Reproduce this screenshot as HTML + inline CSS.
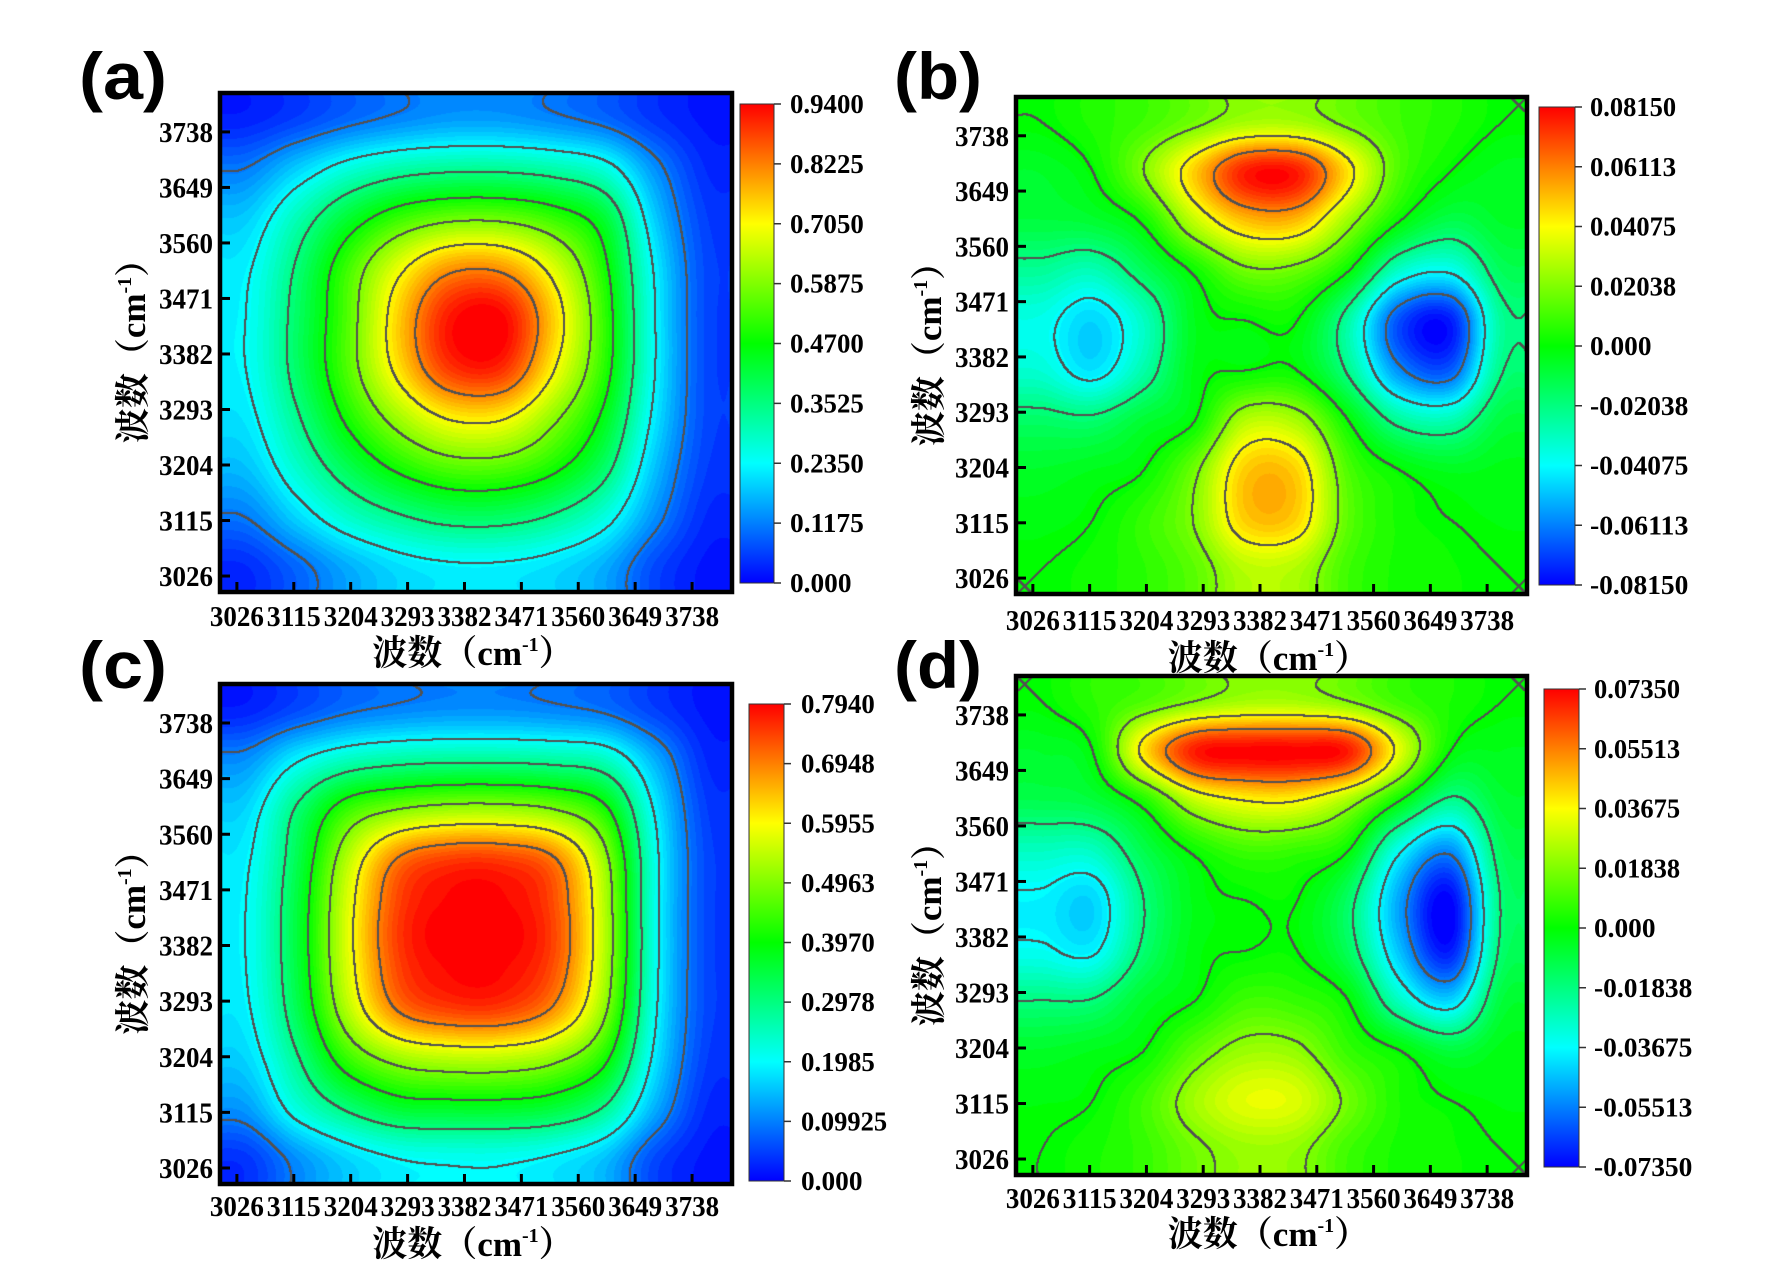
<!DOCTYPE html>
<html><head><meta charset="utf-8">
<style>
html,body{margin:0;padding:0;background:#fff;}
#wrap{position:relative;width:1776px;height:1263px;}
#cv{position:absolute;left:0;top:0;}
#fig{position:absolute;left:0;top:0;display:block;}
.tk{font-family:"Liberation Serif","Noto Serif CJK SC",serif;font-weight:bold;font-size:28px;fill:#000;}
.ck{font-family:"Liberation Serif","Noto Serif CJK SC",serif;font-weight:bold;font-size:27px;fill:#000;}
.tt{font-family:"Liberation Serif","Noto Serif CJK SC",serif;font-weight:bold;font-size:35px;fill:#000;}
.pl{font-family:"Liberation Sans",sans-serif;font-weight:bold;font-size:66px;fill:#000;}
</style></head>
<body>
<div id="wrap">
<canvas id="cv" width="1776" height="1263"></canvas>
<svg id="fig" width="1776" height="1263" viewBox="0 0 1776 1263" xmlns="http://www.w3.org/2000/svg">
<defs id="defs"></defs>
</svg>
</div>
<script>
// ---- data ----
const xTicks = [3026,3115,3204,3293,3382,3471,3560,3649,3738];
const yTicks = [3026,3115,3204,3293,3382,3471,3560,3649,3738];
const cbLabelsA = ["0.9400","0.8225","0.7050","0.5875","0.4700","0.3525","0.2350","0.1175","0.000"];
const cbLabelsB = ["0.08150","0.06113","0.04075","0.02038","0.000","-0.02038","-0.04075","-0.06113","-0.08150"];
const cbLabelsC = ["0.7940","0.6948","0.5955","0.4963","0.3970","0.2978","0.1985","0.09925","0.000"];
const cbLabelsD = ["0.07350","0.05513","0.03675","0.01838","0.000","-0.01838","-0.03675","-0.05513","-0.07350"];
const levelsUnsigned = [0.12,0.25,0.37,0.5,0.62,0.75,0.87];
const levelsSigned = [-0.75,-0.5,-0.25,0,0.25,0.5,0.75];
// grid values, rows top->bottom, normalized to colorbar range
const gridA = [
[0.03,0.06,0.10,0.13,0.15,0.15,0.13,0.10,0.05,0.02],
[0.12,0.20,0.28,0.33,0.35,0.35,0.33,0.28,0.14,0.04],
[0.20,0.32,0.45,0.55,0.60,0.60,0.55,0.45,0.20,0.06],
[0.24,0.38,0.56,0.73,0.85,0.85,0.72,0.52,0.24,0.07],
[0.25,0.40,0.58,0.80,0.98,1.00,0.80,0.55,0.25,0.07],
[0.25,0.40,0.58,0.78,0.95,0.96,0.76,0.54,0.25,0.07],
[0.23,0.36,0.52,0.66,0.76,0.76,0.64,0.48,0.23,0.07],
[0.19,0.30,0.42,0.52,0.58,0.58,0.52,0.40,0.19,0.06],
[0.12,0.21,0.30,0.36,0.40,0.40,0.36,0.28,0.14,0.04],
[0.04,0.10,0.17,0.22,0.24,0.24,0.22,0.17,0.07,0.02]];
const gridC = [
[0.03,0.07,0.11,0.13,0.14,0.14,0.13,0.11,0.06,0.02],
[0.14,0.24,0.31,0.34,0.35,0.35,0.34,0.31,0.17,0.04],
[0.21,0.38,0.55,0.62,0.65,0.65,0.62,0.52,0.24,0.06],
[0.24,0.42,0.68,0.88,0.94,0.94,0.88,0.65,0.27,0.07],
[0.25,0.44,0.72,0.94,1.00,1.00,0.93,0.68,0.27,0.07],
[0.25,0.44,0.72,0.94,1.00,1.00,0.93,0.68,0.27,0.07],
[0.24,0.42,0.68,0.88,0.94,0.94,0.86,0.64,0.26,0.07],
[0.21,0.36,0.55,0.65,0.68,0.68,0.64,0.52,0.23,0.06],
[0.15,0.28,0.38,0.45,0.46,0.46,0.44,0.36,0.17,0.04],
[0.05,0.14,0.21,0.25,0.26,0.26,0.24,0.19,0.07,0.02]];
const gridB = [
[0.00,0.06,0.12,0.22,0.32,0.32,0.22,0.12,0.06,0.00],
[-0.08,0.00,0.25,0.60,0.95,0.95,0.55,0.15,0.00,-0.06],
[-0.12,-0.10,0.02,0.38,0.62,0.62,0.30,0.00,-0.15,-0.08],
[-0.30,-0.36,-0.18,0.02,0.22,0.20,0.00,-0.40,-0.48,-0.18],
[-0.46,-0.58,-0.38,-0.05,0.00,0.00,-0.32,-0.85,-0.95,-0.30],
[-0.42,-0.55,-0.33,-0.04,0.00,0.00,-0.27,-0.72,-0.82,-0.26],
[-0.20,-0.22,-0.10,0.00,0.35,0.32,0.00,-0.30,-0.35,-0.12],
[-0.08,-0.05,0.00,0.22,0.60,0.58,0.15,0.00,-0.06,-0.04],
[-0.03,0.00,0.10,0.26,0.60,0.58,0.18,0.04,0.00,-0.02],
[0.00,0.03,0.08,0.18,0.36,0.34,0.12,0.04,0.02,0.00]];
const gridD = [
[0.00,0.08,0.15,0.25,0.32,0.32,0.25,0.12,0.05,0.00],
[-0.08,0.00,0.55,0.95,1.00,1.00,0.95,0.45,0.00,-0.05],
[-0.15,-0.12,0.05,0.38,0.50,0.50,0.32,0.00,-0.28,-0.10],
[-0.38,-0.38,-0.15,0.02,0.12,0.10,0.00,-0.48,-0.72,-0.18],
[-0.52,-0.58,-0.25,-0.04,0.00,0.00,-0.20,-0.68,-1.00,-0.24],
[-0.48,-0.52,-0.22,-0.03,0.00,0.00,-0.18,-0.62,-0.95,-0.22],
[-0.25,-0.24,-0.08,0.00,0.12,0.10,0.00,-0.38,-0.58,-0.12],
[-0.08,-0.05,0.00,0.18,0.30,0.28,0.10,0.00,-0.12,-0.04],
[-0.02,0.00,0.12,0.32,0.45,0.43,0.22,0.05,0.00,-0.02],
[0.00,0.04,0.10,0.22,0.30,0.28,0.12,0.04,0.02,0.00]];

const NS="http://www.w3.org/2000/svg";
const svg=document.getElementById('fig');
const defs=document.getElementById('defs');
const ctx=document.getElementById('cv').getContext('2d');
function mk(tag,attrs,parent){const e=document.createElementNS(NS,tag);for(const k in attrs)e.setAttribute(k,attrs[k]);(parent||svg).appendChild(e);return e;}
function jetArr(t){t=Math.max(0,Math.min(1,t));const st=[[0,0,0,255],[0.25,0,255,255],[0.5,0,255,0],[0.75,255,255,0],[1,255,0,0]];
 for(let i=0;i<4;i++){if(t<=st[i+1][0]){const f=(t-st[i][0])/(st[i+1][0]-st[i][0]);
 return [1,2,3].map(j=>Math.round(st[i][j]+f*(st[i+1][j]-st[i][j])));}}return [255,0,0];}
function jet(t){const c=jetArr(t);return `rgb(${c[0]},${c[1]},${c[2]})`;}
const lg=mk('linearGradient',{id:'jetg',x1:0,y1:1,x2:0,y2:0},defs);
for(let i=0;i<=20;i++){mk('stop',{offset:i/20,'stop-color':jet(i/20)},lg);}

// Catmull-Rom sampling of the grid (rendering only)
function cr(p0,p1,p2,p3,t){return 0.5*((2*p1)+(-p0+p2)*t+(2*p0-5*p1+4*p2-p3)*t*t+(-p0+3*p1-3*p2+p3)*t*t*t);}
function sample(grid,fx,fy){
 const n=grid.length,m=grid[0].length;
 const gx=fx*m-0.5,gy=fy*n-0.5;
 const ix=Math.floor(gx),iy=Math.floor(gy),tx=gx-ix,ty=gy-iy;
 const g=(r,c)=>grid[Math.max(0,Math.min(n-1,r))][Math.max(0,Math.min(m-1,c))];
 const rows=[];
 for(let k=-1;k<=2;k++){rows.push(cr(g(iy+k,ix-1),g(iy+k,ix),g(iy+k,ix+1),g(iy+k,ix+2),tx));}
 return cr(rows[0],rows[1],rows[2],rows[3],ty);
}
function drawField(P,grid,signed,levels){
 const W=P.x1-P.x0,H=P.y1-P.y0;
 const img=ctx.createImageData(W,H);
 const T=new Float32Array(W*H);
 const M=new Uint8Array(W*H);
 for(let y=0;y<H;y++)for(let x=0;x<W;x++){
  T[y*W+x]=sample(grid,(x+0.5)/W,(y+0.5)/H);
 }
 for(let y=0;y<H;y++)for(let x=0;x<W;x++){
  const v=T[y*W+x];
  const v2=x<W-1?T[y*W+x+1]:v,v3=y<H-1?T[(y+1)*W+x]:v;
  for(const L of levels){ if((v-L)*(v2-L)<0||(v-L)*(v3-L)<0){M[y*W+x]=1;break;} }
 }
 for(let y=0;y<H;y++)for(let x=0;x<W;x++){
  const v=T[y*W+x];const t=signed?(v+1)/2:v;
  let c=jetArr(Math.round(t*60)/60);
  const k=y*W+x;
  const line=M[k]||(x>0&&M[k-1])||(y>0&&M[k-W])||(x>0&&y>0&&M[k-W-1]);
  if(line){c=[82,82,82];}
  const i=k*4;
  img.data[i]=c[0];img.data[i+1]=c[1];img.data[i+2]=c[2];img.data[i+3]=255;
 }
 ctx.putImageData(img,P.x0,P.y0);
}

function panel(id,P,grid,signed,cb,cbLabels,lab,labX,labY,tickY,titleY){
 const g=mk('g',{});
 
 
 const W=P.x1-P.x0,H=P.y1-P.y0;
 const xS=v=>P.x0+W*(0.033+(v-3026)/(3738-3026)*(0.922-0.033));
 const yS=v=>P.y1-H*(0.032+(v-3026)/(3738-3026)*(0.922-0.032));
 drawField(P,grid,signed,signed?levelsSigned:levelsUnsigned);
 const hm=mk('rect',{x:P.x0,y:P.y0,width:W,height:H,fill:'none'},g);
 
 
 const fr=mk('rect',{x:P.x0,y:P.y0,width:W,height:H,fill:'none',stroke:'#000','stroke-width':4.5},g);
 
 
 xTicks.forEach(v=>{const x=xS(v);mk('line',{x1:x,x2:x,y1:P.y1,y2:P.y1-10,stroke:'#000','stroke-width':3},g);
  const t=mk('text',{x:x-27,y:tickY,class:'tk',textLength:54,lengthAdjust:'spacingAndGlyphs'},g);t.textContent=v;
  
  });
 yTicks.forEach(v=>{const y=yS(v);mk('line',{x1:P.x0,x2:P.x0+10,y1:y,y2:y,stroke:'#000','stroke-width':3},g);
  const t=mk('text',{x:P.x0-61,y:y+10,class:'tk',textLength:54,lengthAdjust:'spacingAndGlyphs'},g);t.textContent=v;
  
  });
 const xt=mk('text',{x:(P.x0+P.x1)/2-3,y:titleY,'text-anchor':'middle',class:'tt'},g);
 xt.innerHTML='波数（cm<tspan dy="-14" font-size="20">-1</tspan><tspan dy="14">）</tspan>';
 
 
 const cy=(P.y0+P.y1)/2;const yx=P.x0-75;
 const yt=mk('text',{x:0,y:0,'text-anchor':'middle',class:'tt',transform:`translate(${yx},${cy}) rotate(-90)`},g);
 yt.innerHTML='波数（cm<tspan dy="-14" font-size="20">-1</tspan><tspan dy="14">）</tspan>';
 
 
 const cbr=mk('rect',{x:cb.x,y:cb.y0,width:cb.w,height:cb.y1-cb.y0,fill:'url(#jetg)',stroke:'#333','stroke-width':1},g);
 
 
 cbLabels.forEach((s,i)=>{const y=cb.y0+(cb.y1-cb.y0)*i/(cbLabels.length-1);
  mk('line',{x1:cb.x+cb.w,x2:cb.x+cb.w+7,y1:y,y2:y,stroke:'#333','stroke-width':1.5},g);
  const t=mk('text',{x:cb.lx,y:y+9,class:'ck',textLength:s.length*12.3,lengthAdjust:'spacingAndGlyphs'},g);t.textContent=s;
  
  });
 const pl=mk('text',{x:labX,y:labY,class:'pl',textLength:88,lengthAdjust:'spacingAndGlyphs'},g);pl.textContent=lab;
 
 
}
panel('a',{x0:220,x1:732,y0:93,y1:592},gridA,false,{x:740,w:34,y0:104,y1:583,lx:790},cbLabelsA,'(a)',79,99,626,665);
panel('b',{x0:1016,x1:1527,y0:97,y1:594},gridB,true,{x:1539,w:36,y0:107,y1:585,lx:1590},cbLabelsB,'(b)',894,99,630,670);
panel('c',{x0:220,x1:732,y0:684,y1:1184},gridC,false,{x:749,w:35,y0:704,y1:1181,lx:801},cbLabelsC,'(c)',79,688,1216,1256);
panel('d',{x0:1016,x1:1527,y0:676,y1:1175},gridD,true,{x:1544,w:35,y0:689,y1:1167,lx:1594},cbLabelsD,'(d)',894,688,1208,1246);
</script>
</body></html>
